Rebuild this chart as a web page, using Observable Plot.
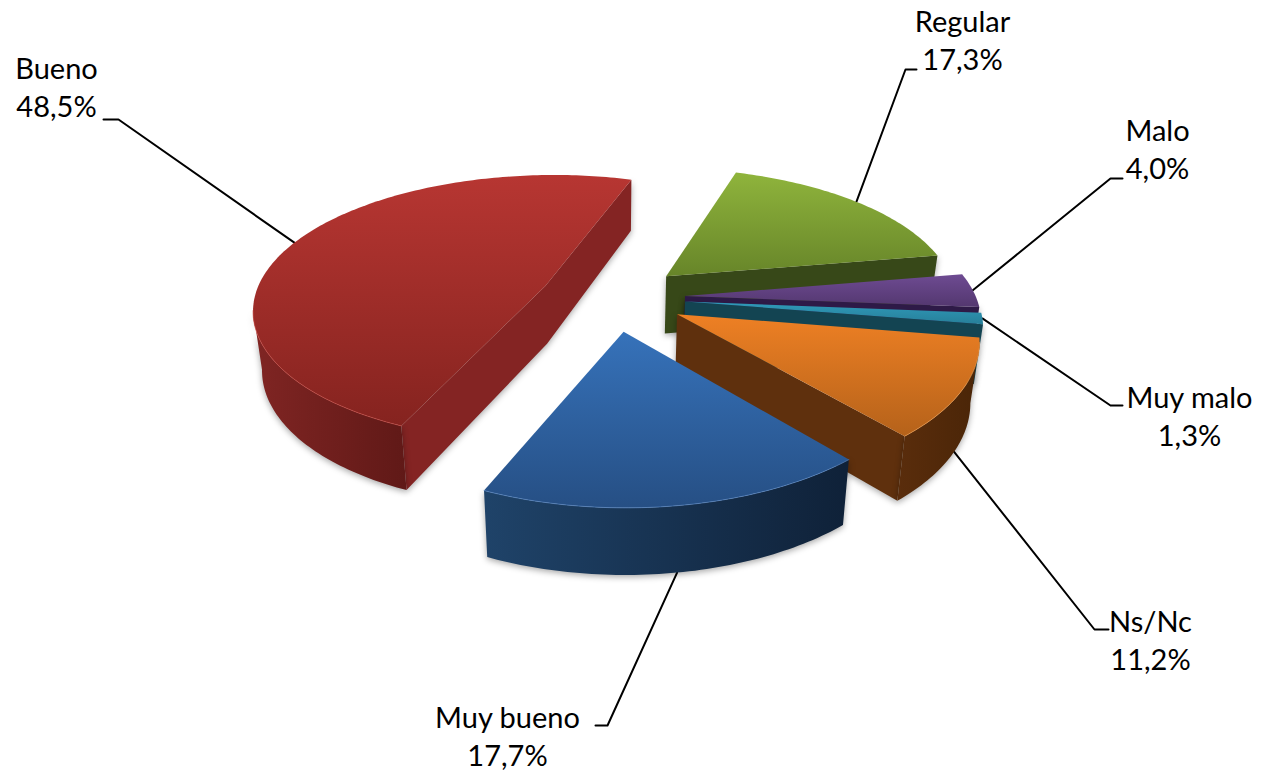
<!DOCTYPE html>
<html>
<head>
<meta charset="utf-8">
<style>html,body{margin:0;padding:0;background:#fff}svg{display:block}</style>
<script src="https://cdn.jsdelivr.net/npm/d3@7"></script>
<script src="https://cdn.jsdelivr.net/npm/@observablehq/plot@0.6"></script>
</head>
<body>
<script>
// --- data (clockwise from the first slice)
const categories = ["Muy bueno", "Bueno", "Regular", "Malo", "Muy malo", "Ns/Nc"];
const values = [17.7, 48.5, 17.3, 4.0, 1.3, 11.2];
const valueLabels = ["17,7%", "48,5%", "17,3%", "4,0%", "1,3%", "11,2%"];

// --- styles
const topColors = [["#3672BA","#264F84"],["#B73632","#85231F"],["#8FB43C","#678529"],["#6E4B92","#53376F"],["#2F9ABA","#277F99"],["#EE8024","#B5621A"]];
const sideColors = ["#1A3558","#842423","#374818","#2E1A47","#134452","#5F300D"];
const rimColors = [["#1F4369","#0F2138"],["#802523","#601917"],["#374818","#374818"],["#2E1A47","#2E1A47"],["#134452","#134452"],["#5A2D0C","#4A2507"]];
const edgeColors = ["#5C8CCB","#CF4C46","#A9CA5C","#8E6BB3","#55B5D0","#F5A04E"];
const paintOrder = [2, 3, 4, 5, 1, 0];

// --- view of the 3D pie
const startAngle = 49.7, explode = 0.25;
const cx = 612, cy = 297, A = 291, B = 133.2, kx = 0.157, ky = 0.1685;
const rad = d => d * Math.PI / 180;
const topPt = (u, v) => ({x: cx + A * u / (1 - kx * v), y: cy + B * v / (1 - ky * v), v});
const bottomPt = (u, v) => {
  const p = topPt(u, v);
  return {x: cx + (p.x - cx) * 0.975, y: p.y + 50 + 7 * (v + 1.2)};
};

// --- label layout: centre of label block, end of leader beside it, elbow, leader anchor side
const labelLayout = {
  "Bueno":     {x: 56,   y: 85,  tip: [103, 119],  elbow: [118, 119],  face: "top"},
  "Regular":   {x: 962,  y: 38,  tip: [916, 69],   elbow: [905, 69],   face: "top"},
  "Malo":      {x: 1157, y: 147, tip: [1122, 178], elbow: [1110, 178], face: "top"},
  "Muy malo":  {x: 1189, y: 414, tip: [1122, 405], elbow: [1110, 405], face: "top"},
  "Ns/Nc":     {x: 1150, y: 638, tip: [1108, 629], elbow: [1094, 629], face: "bottom"},
  "Muy bueno": {x: 507,  y: 734, tip: [595, 725],  elbow: [607, 725],  face: "bottom"}
};

// --- slices
const total = d3.sum(values);
let acc = startAngle;
const slices = categories.map((name, i) => {
  const a0 = acc, a1 = acc + values[i] / total * 360;
  acc = a1;
  const mid = rad((a0 + a1) / 2);
  const ox = explode * Math.cos(mid), oy = explode * Math.sin(mid);
  const at = (f, a) => f(ox + Math.cos(rad(a)), oy + Math.sin(rad(a)));
  const n = Math.max(4, Math.ceil(a1 - a0));
  const angles = d3.range(n + 1).map(j => a0 + (a1 - a0) * j / n);
  return {i, name, a0, a1, mid, ox, oy, at, angles};
});

const cross = (a, b, c) => (b.x - a.x) * (c.y - a.y) - (b.y - a.y) * (c.x - a.x);

function facesOf(s) {
  const faces = [];
  const apexT = topPt(s.ox, s.oy), apexB = bottomPt(s.ox, s.oy);
  const arcT = s.angles.map(a => s.at(topPt, a));
  const arcB = s.angles.map(a => s.at(bottomPt, a));
  const midT = arcT[Math.floor(arcT.length / 2)];
  const visibleEnds = [[arcT[0], arcB[0]], [arcT[arcT.length - 1], arcB[arcB.length - 1]]].filter(([endT]) => {
    const inner = cross(apexT, endT, midT);
    const down = cross(apexT, endT, {x: apexT.x, y: apexT.y + 1});
    return inner * down < 0;
  });
  if (visibleEnds.length === 1) {
    const [endT, endB] = visibleEnds[0];
    faces.push({pts: [apexT, endT, endB, apexB], fill: sideColors[s.i]});
  } else if (visibleEnds.length === 2) {
    // both radial walls show: one outline, so that neither shadows the other
    const [[t0, b0], [t1, b1]] = visibleEnds;
    faces.push({pts: [t0, apexT, t1, b1, apexB, b0], fill: sideColors[s.i]});
  }
  const vis = [];
  for (let j = 0; j < arcT.length; j++) {
    const prevOk = j > 0 && arcT[j].x < arcT[j - 1].x;
    const nextOk = j < arcT.length - 1 && arcT[j + 1].x < arcT[j].x;
    if (prevOk || nextOk) vis.push(j);
  }
  let rim = [];
  if (vis.length > 1) {
    rim = vis.map(j => arcT[j]);
    faces.push({pts: [...rim, ...vis.map(j => arcB[j]).reverse()], fill: `url(#rim${s.i})`});
  }
  faces.push({pts: [apexT, ...arcT], fill: `url(#top${s.i})`});
  return {faces, rim};
}

const defs = () => {
  const d = d3.create("svg:defs");
  topColors.forEach((c, i) => {
    const g = d.append("linearGradient").attr("id", `top${i}`).attr("x1", 0).attr("y1", 0).attr("x2", 0).attr("y2", 1);
    g.append("stop").attr("offset", 0).attr("stop-color", c[0]);
    g.append("stop").attr("offset", 1).attr("stop-color", c[1]);
  });
  rimColors.forEach((c, i) => {
    const g = d.append("linearGradient").attr("id", `rim${i}`).attr("x1", 0).attr("y1", 0).attr("x2", 1).attr("y2", 0);
    g.append("stop").attr("offset", 0).attr("stop-color", c[0]);
    g.append("stop").attr("offset", 1).attr("stop-color", c[1]);
  });
  return d.node();
};

const sliceMarks = paintOrder.flatMap(i => {
  const {faces, rim} = facesOf(slices[i]);
  const walls = faces.slice(0, -1), cap = faces[faces.length - 1];
  return [
    ...walls.map(f => Plot.line(f.pts, {x: "x", y: "y", fill: f.fill, stroke: "none", imageFilter: "drop-shadow(0 2px 3px rgba(0,0,0,.35))"})),
    Plot.line(cap.pts, {x: "x", y: "y", fill: cap.fill, stroke: "none"}),
    ...(rim.length ? [Plot.line(rim, {x: "x", y: "y", stroke: edgeColors[i], strokeWidth: 1, strokeOpacity: 0.6})] : [])
  ];
});

const leaders = slices.map(s => {
  const l = labelLayout[s.name];
  const anchor = s.at(l.face === "top" ? topPt : bottomPt, (s.a0 + s.a1) / 2);
  return [{x: l.tip[0], y: l.tip[1]}, {x: l.elbow[0], y: l.elbow[1]}, {x: anchor.x, y: anchor.y}];
});

const labels = slices.map((s, i) => ({
  x: labelLayout[s.name].x,
  y: labelLayout[s.name].y,
  text: `${s.name}\n${valueLabels[i]}`
}));

const chart = Plot.plot({
  width: 1261, height: 774, margin: 0,
  x: {domain: [0, 1261], range: [0, 1261], axis: null},
  y: {domain: [0, 774], range: [0, 774], axis: null},
  style: {background: "#fff"},
  marks: [
    defs,
    ...leaders.map(l => Plot.line(l, {x: "x", y: "y", stroke: "#000", strokeWidth: 2})),
    ...sliceMarks,
    Plot.text(labels, {x: "x", y: "y", text: "text", fontSize: 29, lineHeight: 1.34, lineAnchor: "middle", textAnchor: "middle", fontFamily: "Lato", fill: "#000"})
  ]
});
document.body.appendChild(chart);
</script>
</body>
</html>
